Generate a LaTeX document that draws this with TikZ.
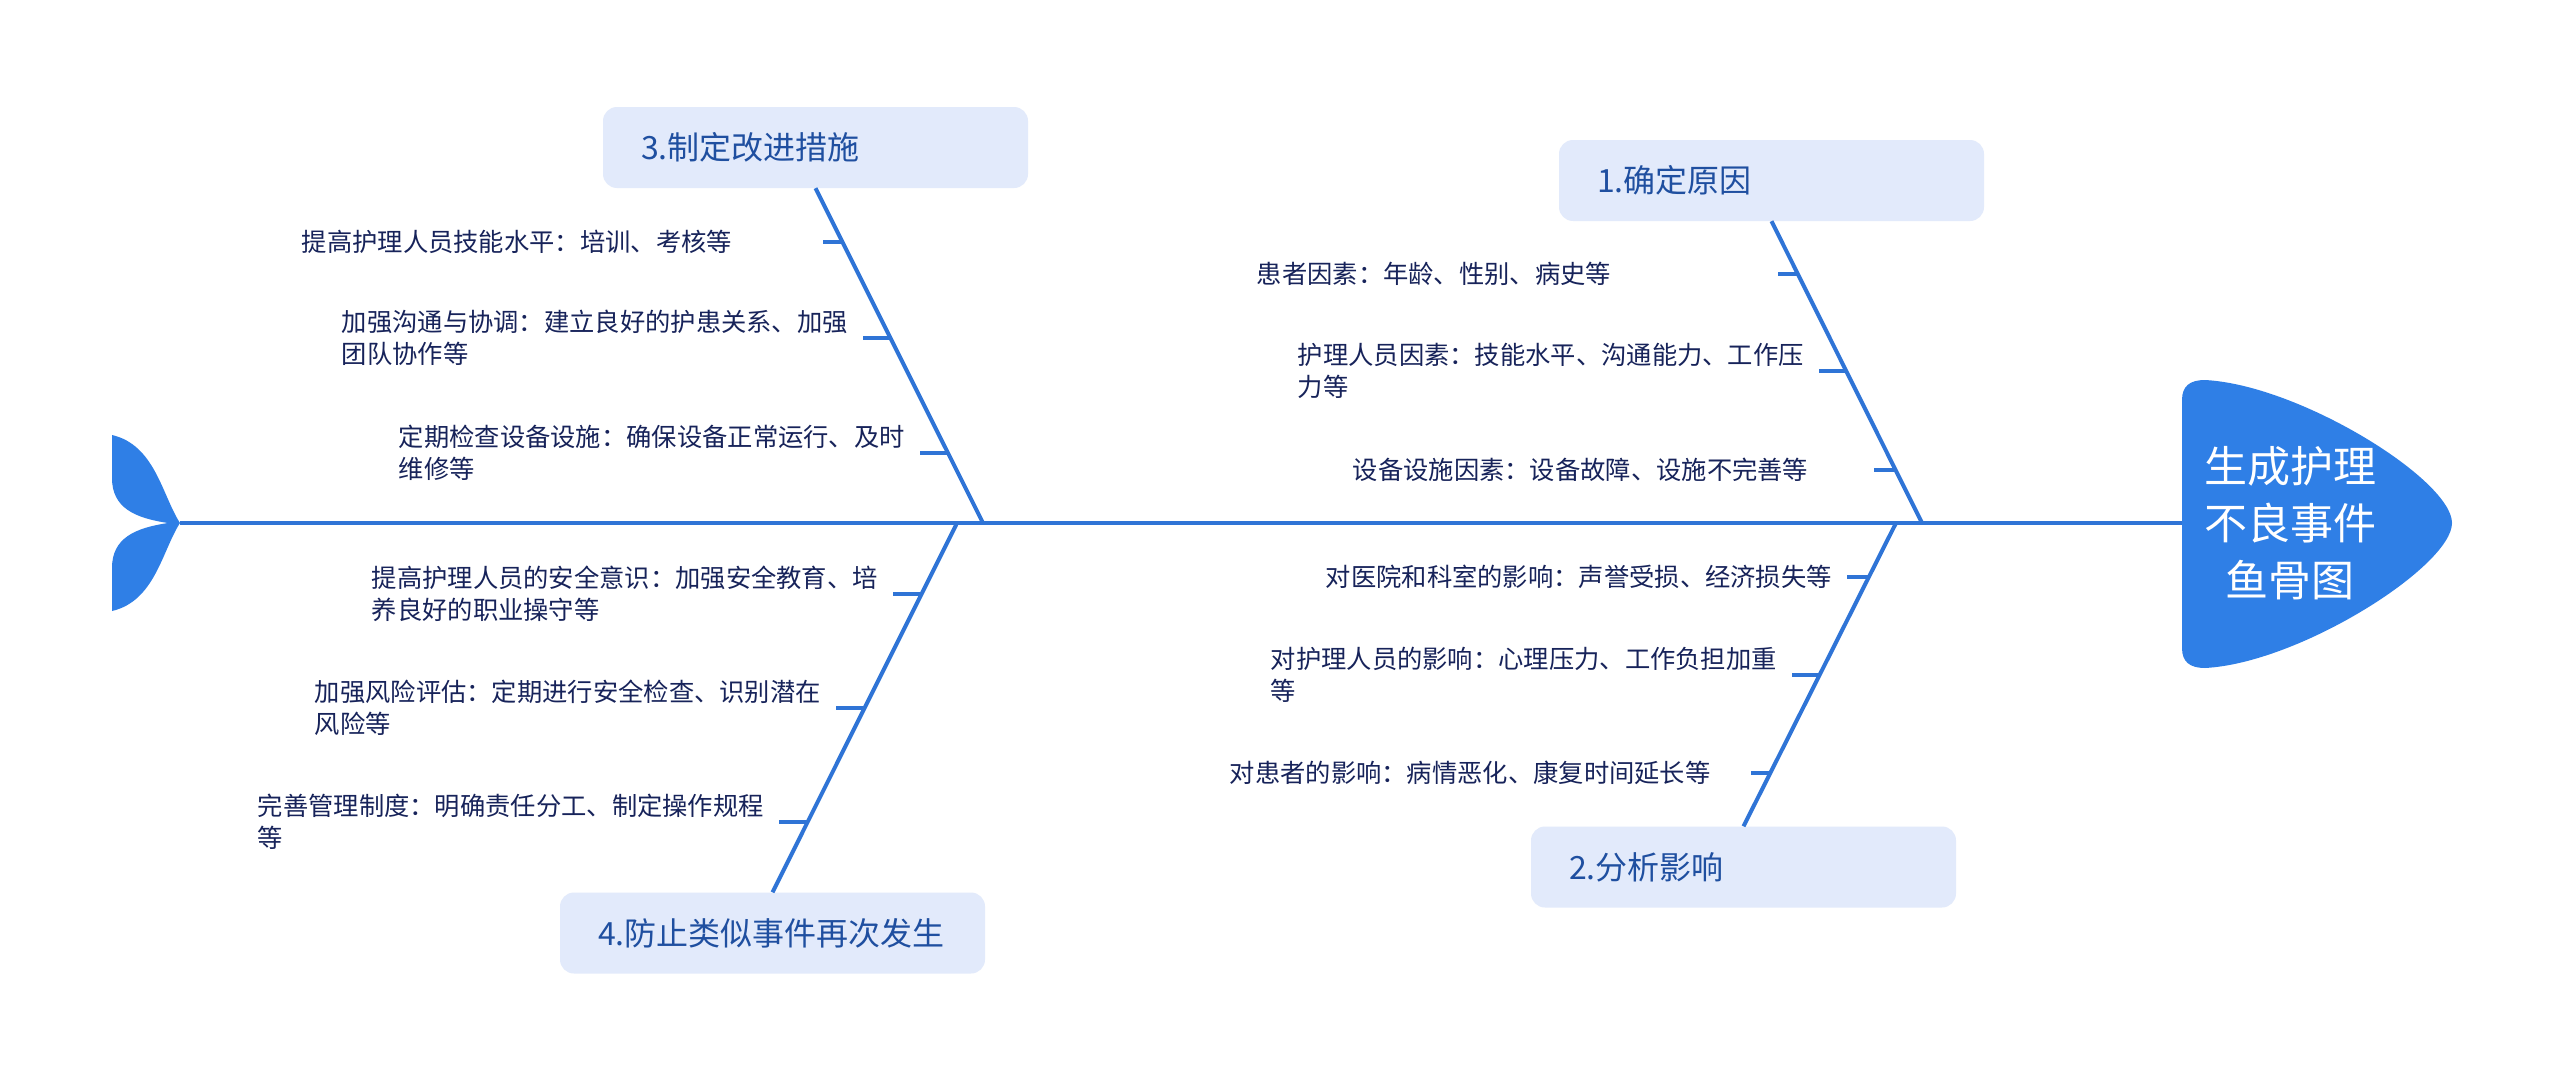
\documentclass[tikz,border=0pt]{standalone}
\usepackage{fontspec}
\setmainfont{Noto Sans CJK SC}
\usetikzlibrary{calc}
\definecolor{linecol}{HTML}{2F74D6}
\definecolor{headcol}{HTML}{2F7FE6}
\definecolor{boxfill}{HTML}{E2EAFB}
\definecolor{titlecol}{HTML}{1F4FA0}
\definecolor{itemcol}{HTML}{17235A}
\begin{document}
\begin{tikzpicture}[x=1pt,y=-1pt,
  bone/.style={draw=linecol, line width=4pt},
  tickline/.style={draw=linecol, line width=4pt},
  titlebox/.style={fill=boxfill, rounded corners=14pt, minimum height=81pt,
    text width=349pt, inner xsep=38pt, inner ysep=0pt, align=left,
    font=\fontsize{32}{38}\selectfont, text=titlecol},
  item/.style={anchor=east, text width=508pt, align=left, inner sep=0pt,
    font=\fontsize{25.3}{31.5}\selectfont, text=itemcol},
  headtext/.style={align=center, text=white, inner sep=0pt,
    font=\fontsize{43}{57}\selectfont}]
\useasboundingbox[fill=white] (0,0) rectangle (2560,1081);

% spine
\coordinate (tl) at (180,523);
\coordinate (hl) at (2182,523);
\draw[bone] (tl) -- (hl);

% junctions on spine
\coordinate (j1) at (1922,523);
\coordinate (j2) at (1896,523);
\coordinate (j3) at (983,523);
\coordinate (j4) at (957,523);

% title boxes
\node[titlebox] (b1) at (1771.5,180.5) {1.确定原因};
\node[titlebox] (b2) at (1743.5,867) {2.分析影响};
\node[titlebox] (b3) at (815.5,147.5) {3.制定改进措施};
\node[titlebox] (b4) at (772.5,933) {4.防止类似事件再次发生};

% bones
\draw[bone] (b1.south) -- (j1);
\draw[bone] (b2.north) -- (j2);
\draw[bone] (b3.south) -- (j3);
\draw[bone] (b4.north) -- (j4);

% tick points: start (s) and bone point (p)
\coordinate (s11) at (1778,274); \coordinate (p11) at (1797.9,274);
\coordinate (s12) at (1819,371); \coordinate (p12) at (1846.2,371);
\coordinate (s13) at (1874,470); \coordinate (p13) at (1895.6,470);
\coordinate (s21) at (1847,577); \coordinate (p21) at (1868.9,577);
\coordinate (s22) at (1792,675); \coordinate (p22) at (1819.8,675);
\coordinate (s23) at (1751,773); \coordinate (p23) at (1770.6,773);
\coordinate (s31) at (823,242);  \coordinate (p31) at (842.5,242);
\coordinate (s32) at (863,338);  \coordinate (p32) at (890.5,338);
\coordinate (s33) at (920,453);  \coordinate (p33) at (948,453);
\coordinate (s41) at (893,594);  \coordinate (p41) at (921.6,594);
\coordinate (s42) at (836,708);  \coordinate (p42) at (864.8,708);
\coordinate (s43) at (779,822);  \coordinate (p43) at (807.9,822);

\foreach \k in {11,12,13,21,22,23,31,32,33,41,42,43}{
  \draw[tickline] (s\k) -- (p\k);
}

% item texts
\node[item] (i11) at ($(s11)+(-13,0)$) {患者因素：年龄、性别、病史等};
\node[item] (i12) at ($(s12)+(-13,0)$) {护理人员因素：技能水平、沟通能力、工作压\\力等};
\node[item] (i13) at ($(s13)+(-13,0)$) {设备设施因素：设备故障、设施不完善等};
\node[item] (i21) at ($(s21)+(-13,0)$) {对医院和科室的影响：声誉受损、经济损失等};
\node[item] (i22) at ($(s22)+(-13,0)$) {对护理人员的影响：心理压力、工作负担加重\\等};
\node[item] (i23) at ($(s23)+(-13,0)$) {对患者的影响：病情恶化、康复时间延长等};
\node[item] (i31) at ($(s31)+(-13,0)$) {提高护理人员技能水平：培训、考核等};
\node[item] (i32) at ($(s32)+(-13,0)$) {加强沟通与协调：建立良好的护患关系、加强\\团队协作等};
\node[item] (i33) at ($(s33)+(-13,0)$) {定期检查设备设施：确保设备正常运行、及时\\维修等};
\node[item] (i41) at ($(s41)+(-13,0)$) {提高护理人员的安全意识：加强安全教育、培\\养良好的职业操守等};
\node[item] (i42) at ($(s42)+(-13,0)$) {加强风险评估：定期进行安全检查、识别潜在\\风险等};
\node[item] (i43) at ($(s43)+(-13,0)$) {完善管理制度：明确责任分工、制定操作规程\\等};

% head
\fill[headcol] (2182,400) .. controls (2182,386) and (2190,380) .. (2205,380)
  .. controls (2300,385) and (2452,480) .. (2452,523)
  .. controls (2452,566) and (2300,663) .. (2205,668)
  .. controls (2190,668) and (2182,662) .. (2182,648) -- cycle;
\node[headtext] (head) at (2290,523) {生成护理\\不良事件\\鱼骨图};

% tail
\fill[headcol] (180,523) .. controls (162,495) and (155,445) .. (112,435)
  -- (112,478) .. controls (112,508) and (135,518) .. (168,523)
  .. controls (135,528) and (112,538) .. (112,568)
  -- (112,611) .. controls (155,601) and (162,551) .. (180,523) -- cycle;
\end{tikzpicture}
\end{document}
